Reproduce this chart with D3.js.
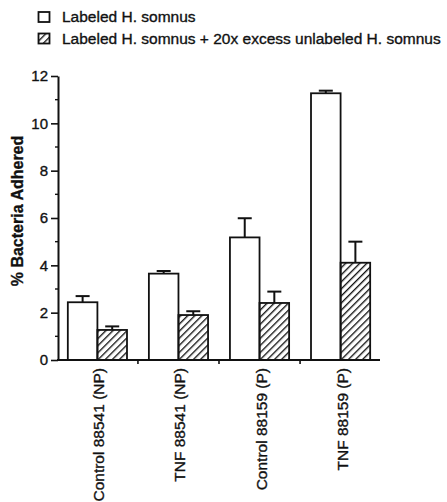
<!DOCTYPE html>
<html>
<head>
<meta charset="utf-8">
<script src="https://cdn.jsdelivr.net/npm/d3@7"></script>
<style>
  body { margin: 0; background: #fff; }
  svg { display: block; font-family: "Liberation Sans", Arial, Helvetica, sans-serif; }
  text { stroke: #111; stroke-width: 0.35px; }
</style>
</head>
<body>
<svg class="chart"></svg>
<script>
var width = 447;
var height = 502;

var groups = ['Control 88541 (NP)', 'TNF 88541 (NP)', 'Control 88159 (P)', 'TNF 88159 (P)'];
var series = ['Labeled H. somnus', 'Labeled H. somnus + 20x excess unlabeled H. somnus'];
var labeled = [2.44, 3.65, 5.18, 11.27];
var labeledErr = [0.26, 0.11, 0.81, 0.11];
var excess = [1.27, 1.90, 2.41, 4.11];
var excessErr = [0.15, 0.16, 0.48, 0.89];
var yTicks = [0, 2, 4, 6, 8, 10, 12];

var margin = {top: 76, left: 58, right: 67, bottom: 142};

var chart = d3.select('.chart')
    .attr('width', width)
    .attr('height', height);

// hatch pattern for the excess bars
var defs = chart.append('defs');
defs.append('pattern')
    .attr('id', 'hatch')
    .attr('patternUnits', 'userSpaceOnUse')
    .attr('width', 5)
    .attr('height', 5)
    .attr('patternTransform', 'rotate(45)')
  .append('line')
    .attr('x1', 0).attr('y1', 0)
    .attr('x2', 0).attr('y2', 5)
    .attr('stroke', '#111')
    .attr('stroke-width', 2.7);

var y = d3.scaleLinear()
    .domain([0, 12])
    .range([height - margin.bottom, margin.top]);

var x = d3.scaleBand()
    .domain(groups)
    .range([margin.left + 0.5, width - margin.right - 0.5])
    .paddingInner(0.27)
    .paddingOuter(0.115);

var sub = d3.scaleBand()
    .domain([0, 1])
    .range([0, x.bandwidth()]);

var data = groups.map(function(g, i) {
  return {group: g, values: [
    {k: 0, v: labeled[i], e: labeledErr[i]},
    {k: 1, v: excess[i], e: excessErr[i]}
  ]};
});

// bars + error bars
var g = chart.append('g')
  .selectAll('g')
  .data(data)
  .join('g')
    .attr('transform', function(d) { return 'translate(' + x(d.group) + ',0)'; });

var bar = g.selectAll('g')
  .data(function(d) { return d.values; })
  .join('g');

bar.append('line')
    .attr('x1', function(d) { return sub(d.k) + sub.bandwidth() / 2; })
    .attr('x2', function(d) { return sub(d.k) + sub.bandwidth() / 2; })
    .attr('y1', function(d) { return y(d.v); })
    .attr('y2', function(d) { return y(d.v + d.e); })
    .attr('stroke', '#111')
    .attr('stroke-width', 2);

bar.append('line')
    .attr('x1', function(d) { return sub(d.k) + sub.bandwidth() / 2 - 7; })
    .attr('x2', function(d) { return sub(d.k) + sub.bandwidth() / 2 + 7; })
    .attr('y1', function(d) { return y(d.v + d.e); })
    .attr('y2', function(d) { return y(d.v + d.e); })
    .attr('stroke', '#111')
    .attr('stroke-width', 2);

bar.append('rect')
    .attr('x', function(d) { return sub(d.k); })
    .attr('y', function(d) { return y(d.v); })
    .attr('width', sub.bandwidth())
    .attr('height', function(d) { return y(0) - y(d.v); })
    .attr('fill', function(d) { return d.k ? 'url(#hatch)' : '#fff'; })
    .attr('stroke', '#111')
    .attr('stroke-width', 1.8);

// y axis
var yAxis = chart.append('g')
    .attr('transform', 'translate(' + margin.left + ',0)')
    .call(d3.axisLeft(y).tickValues(yTicks).tickSize(7).tickSizeOuter(0).tickPadding(3));
yAxis.select('.domain').attr('stroke', '#111').attr('stroke-width', 2);
yAxis.selectAll('.tick line').attr('stroke', '#111').attr('stroke-width', 1.6);
yAxis.selectAll('.tick text')
    .attr('font-size', 15)
    .attr('font-family', '"Liberation Sans", Arial, sans-serif')
    .attr('fill', '#111');

// minor y ticks
chart.append('g')
  .selectAll('line')
  .data([1, 3, 5, 7, 9, 11])
  .join('line')
    .attr('x1', margin.left - 3)
    .attr('x2', margin.left)
    .attr('y1', function(d) { return y(d); })
    .attr('y2', function(d) { return y(d); })
    .attr('stroke', '#111')
    .attr('stroke-width', 1.4);

// x axis line and ticks between groups
var step = x.step();
chart.append('line')
    .attr('x1', margin.left - 1)
    .attr('x2', width - margin.right)
    .attr('y1', y(0))
    .attr('y2', y(0))
    .attr('stroke', '#111')
    .attr('stroke-width', 2);

chart.append('g')
  .selectAll('line')
  .data(groups.slice(1))
  .join('line')
    .attr('x1', function(d) { return x(d) - (step - x.bandwidth()) / 2; })
    .attr('x2', function(d) { return x(d) - (step - x.bandwidth()) / 2; })
    .attr('y1', y(0))
    .attr('y2', y(0) + 4)
    .attr('stroke', '#111')
    .attr('stroke-width', 1.6);

// category labels
chart.append('g')
  .selectAll('text')
  .data(groups)
  .join('text')
    .attr('transform', function(d) {
      return 'translate(' + (x(d) + x.bandwidth() / 2 + 7) + ',' + (y(0) + 8) + ') rotate(-90)';
    })
    .attr('text-anchor', 'end')
    .attr('font-size', 15.5)
    .attr('fill', '#111')
    .text(function(d) { return d; });

// y title
chart.append('text')
    .attr('transform', 'translate(23,' + 211 + ') rotate(-90)')
    .attr('text-anchor', 'middle')
    .attr('font-size', 16)
    .attr('font-weight', 'bold')
    .attr('fill', '#111')
    .text('% Bacteria Adhered');

// legend
var legend = chart.append('g')
  .selectAll('g')
  .data(series)
  .join('g')
    .attr('transform', function(d, i) { return 'translate(38,' + (12 + i * 21.5) + ')'; });

legend.append('rect')
    .attr('x', 0.5).attr('y', 0)
    .attr('width', 11).attr('height', 10)
    .attr('fill', function(d, i) { return i ? 'url(#hatch)' : '#fff'; })
    .attr('stroke', '#111')
    .attr('stroke-width', 1.8);

legend.append('text')
    .attr('x', 24)
    .attr('y', 10)
    .attr('font-size', 15.5)
    .attr('fill', '#111')
    .text(function(d) { return d; });
</script>
</body>
</html>
